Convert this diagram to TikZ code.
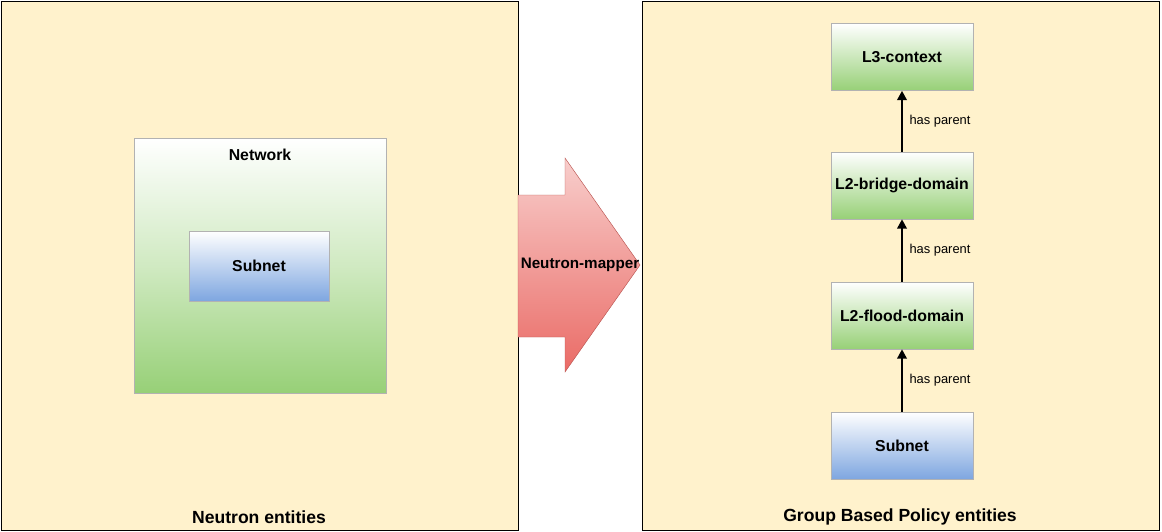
\documentclass[tikz,border=0pt]{standalone}
\usepackage{fontspec}
\setmainfont{Liberation Sans}
\usetikzlibrary{arrows.meta}
\definecolor{panel}{RGB}{255,242,204}
\definecolor{grn}{RGB}{151,208,119}
\definecolor{blu}{RGB}{126,166,224}
\definecolor{rd}{RGB}{234,107,102}
\definecolor{rdl}{RGB}{248,206,204}
\tikzset{
	panel/.style = {draw, fill=panel, minimum width=517*0.03cm,
		minimum height=529*0.03cm, inner sep=0pt},
	ent/.style = {draw=gray!60, top color=white, bottom color=#1,
		minimum width=142*0.03cm, minimum height=67*0.03cm,
		font=\bfseries\fontsize{13.5}{15}\selectfont},
	ent/.default = grn,
	parent/.style = {-{Triangle[length=8pt,width=8pt]}, line width=2.2pt},
	plabel/.style = {font=\fontsize{11}{13}\selectfont, right, xshift=2pt},
	title/.style = {font=\bfseries\fontsize{15}{17}\selectfont}
}
\begin{document}
\begin{tikzpicture}[x=0.03cm, y=-0.03cm]
\useasboundingbox (0,0) rectangle (1162,532);
\node[panel] (left) at (259.5,265.5) {};
\node[panel] (right) at (901,265.5) {};

% neutron side
\node[draw=gray!60, top color=white, bottom color=grn, middle color=grn!45,
	minimum width=252*0.03cm, minimum height=255*0.03cm,
	inner sep=0pt] (net) at (260,265.5) {};
\node[font=\bfseries\fontsize{13.5}{15}\selectfont] (netl) at (260,155) {Network};
\node[ent=blu, minimum width=140*0.03cm, minimum height=70*0.03cm] (sub) at (259,266) {Subnet};

% mapper arrow
\shade[draw=rd!80!black, top color=rdl, bottom color=rd]
	(518,195) -- (565,195) -- (565,158) -- (640,265) -- (565,372)
	-- (565,337) -- (518,337) -- cycle;
\node[font=\bfseries\fontsize{13}{15}\selectfont] (map) at (580,265) {Neutron-mapper};

% gbp side
\node[ent] (l3) at (902,57) {L3-context};
\node[ent] (bd) at (902,185.5) {L2-bridge-domain};
\node[ent] (fd) at (902,315.5) {L2-flood-domain};
\node[ent=blu] (gsub) at (902,445.5) {Subnet};

\draw[parent] (gsub) -- node[plabel] {has parent} (fd);
\draw[parent] (fd) -- node[plabel] {has parent} (bd);
\draw[parent] (bd) -- node[plabel] {has parent} (l3);

\node[title] (nt) at (259,517) {Neutron entities};
\node[title] (gt) at (900,517) {Group Based Policy entities};
\end{tikzpicture}
\end{document}
